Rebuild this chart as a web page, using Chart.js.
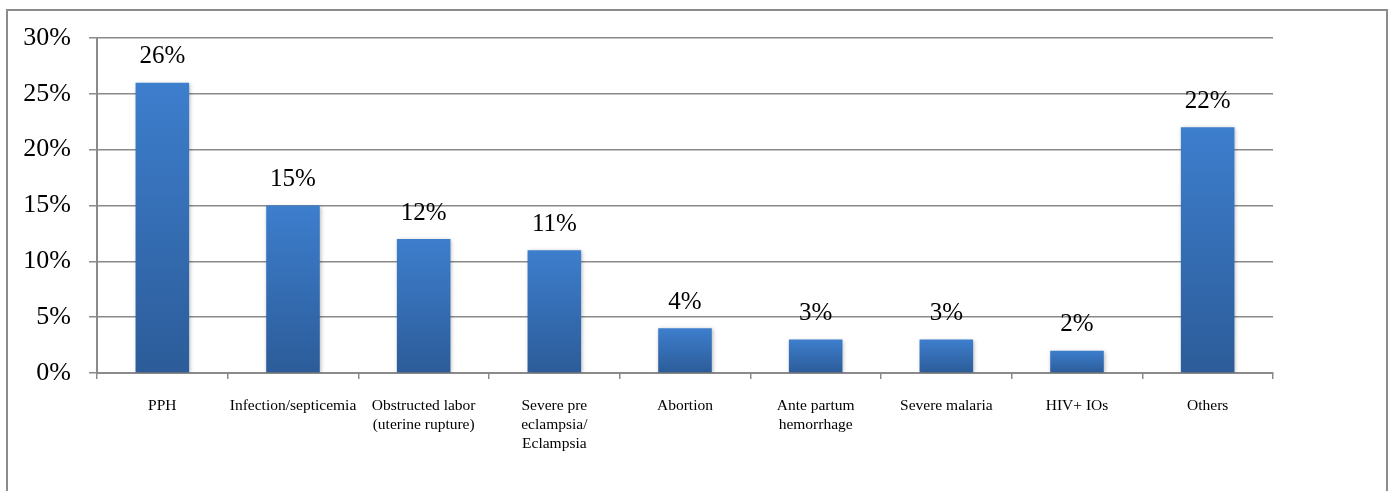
<!DOCTYPE html>
<html lang="en">
<head>
  <meta charset="UTF-8" />
  <title>Causes of maternal death</title>
  <style>
    body {
      margin: 0;
      background: #ffffff;
      overflow: hidden;
    }
    #frame {
      position: absolute;
      left: 6px;
      top: 9px;
      width: 1378px;
      height: 600px;
      border: 2px solid #8c8c8c;
      border-bottom: none;
    }
    #causesChart {
      position: absolute;
      left: 0;
      top: 0;
    }
  </style>
</head>
<body>
  <div id="frame"></div>
  <canvas id="causesChart" width="1394" height="491"></canvas>

  <script src="https://cdn.jsdelivr.net/npm/chart.js"></script>
  <script>
    const causes = [
      "PPH",
      "Infection/septicemia",
      ["Obstructed labor", "(uterine rupture)"],
      ["Severe pre", "eclampsia/", "Eclampsia"],
      "Abortion",
      ["Ante partum", "hemorrhage"],
      "Severe malaria",
      "HIV+ IOs",
      "Others"
    ];
    const shares = [26, 15, 12, 11, 4, 3, 3, 2, 22];
    const yTicks = [0, 5, 10, 15, 20, 25, 30];

    const serif = "'Liberation Serif', 'Times New Roman', serif";
    const gridGray = '#8a8a8a';

    // vertical gradient per bar, light at the top, dark at the base
    function barFill(ctx) {
      const chart = ctx.chart;
      const y = chart.scales && chart.scales.y;
      if (!chart.chartArea || !y || ctx.raw === undefined) return '#3a78c4';
      const top = y.getPixelForValue(ctx.raw);
      const base = y.getPixelForValue(0);
      const g = chart.ctx.createLinearGradient(0, top, 0, base);
      g.addColorStop(0, '#3d7ecd');
      g.addColorStop(1, '#2c5c99');
      return g;
    }

    const barShadow = {
      id: 'barShadow',
      beforeDatasetsDraw(chart) {
        const c = chart.ctx;
        c.save();
        c.shadowColor = 'rgba(0,0,0,0.28)';
        c.shadowBlur = 4;
        c.shadowOffsetX = 1;
        c.shadowOffsetY = 1;
      },
      afterDatasetsDraw(chart) {
        chart.ctx.restore();
      }
    };

    const valueLabels = {
      id: 'valueLabels',
      afterDatasetsDraw(chart) {
        const c = chart.ctx;
        const meta = chart.getDatasetMeta(0);
        c.save();
        c.font = '25px ' + serif;
        c.fillStyle = '#000';
        c.textAlign = 'center';
        c.textBaseline = 'middle';
        meta.data.forEach((bar, i) => {
          c.fillText(shares[i] + '%', bar.x, bar.y - 26);
        });
        c.restore();
      }
    };

    new Chart(document.getElementById('causesChart'), {
      type: 'bar',
      data: {
        labels: causes,
        datasets: [{
          data: shares,
          backgroundColor: barFill,
          borderWidth: 0,
          barPercentage: 0.41,
          categoryPercentage: 1
        }]
      },
      options: {
        responsive: false,
        animation: false,
        layout: { padding: { left: 0, top: 38, right: 121, bottom: 0 } },
        plugins: {
          legend: { display: false },
          tooltip: { enabled: false }
        },
        scales: {
          x: {
            afterFit: s => { s.height = 118; },
            grid: {
              drawOnChartArea: false,
              color: gridGray,
              lineWidth: 1.5,
              tickLength: 6,
              offset: true
            },
            border: { color: gridGray, width: 2 },
            ticks: {
              color: '#000',
              font: { family: serif, size: 15.5, lineHeight: 1.2 },
              padding: 18,
              maxRotation: 0,
              autoSkip: false
            }
          },
          y: {
            min: 0,
            max: 30,
            afterFit: s => { s.width = 97; },
            afterBuildTicks: s => { s.ticks = yTicks.map(v => ({ value: v })); },
            grid: {
              color: gridGray,
              lineWidth: 1.5,
              tickLength: 8
            },
            border: { color: gridGray, width: 2 },
            ticks: {
              color: '#000',
              font: { family: serif, size: 26 },
              padding: 18,
              callback: v => v + '%'
            }
          }
        }
      },
      plugins: [barShadow, valueLabels]
    });
  </script>
</body>
</html>
